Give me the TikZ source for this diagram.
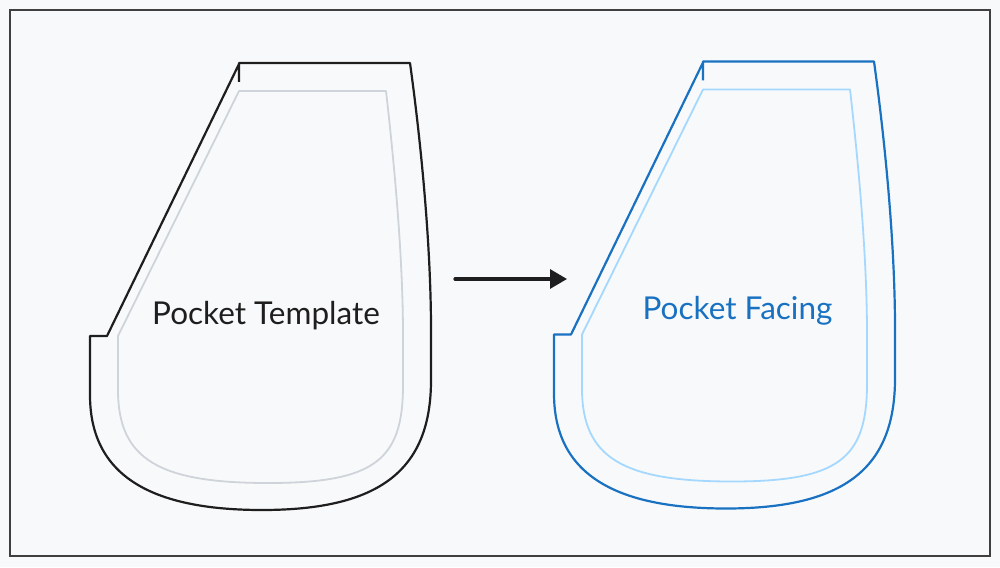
\documentclass[tikz,border=0pt]{standalone}
\usepackage{fontspec}
\setmainfont{Lato}
\usetikzlibrary{arrows.meta}
\definecolor{bgc}{HTML}{F8F9FA}
\definecolor{framec}{HTML}{404040}
\definecolor{inkc}{HTML}{1E1E1E}
\definecolor{grayc}{HTML}{CED4DA}
\definecolor{bluec}{HTML}{1971C2}
\definecolor{lbluec}{HTML}{A5D8FF}
\tikzset{
  outerline/.style={line width=2.2pt, line join=round},
  innerline/.style={line width=1.8pt, line join=round},
  label/.style={font=\fontsize{31.5}{36}\selectfont, anchor=base, inner sep=0pt},
  conn/.style={line width=3.2pt, line cap=round, -{Triangle[length=17pt,width=19pt]}},
  outerpocket/.pic={
    \draw[pic actions] (239,82) -- (239,63) -- (410,63)
      .. controls (422,150) and (431,250) .. (431,330) -- (431,380)
      .. controls (431,470) and (380,510) .. (262,510)
      .. controls (150,510) and (90,475) .. (90,395) -- (90,336) -- (107,336) -- (239,64);
  },
  innerpocket/.pic={
    \draw[pic actions] (239,91) -- (386,91)
      .. controls (395,170) and (403,260) .. (403,336) -- (403,385)
      .. controls (403,460) and (375,483) .. (268,483)
      .. controls (160,483) and (118,460) .. (118,390) -- (118,336) -- cycle;
  }
}
\begin{document}
\begin{tikzpicture}[x=1pt,y=-1pt]
\useasboundingbox (0,0) rectangle (1000,567);
\fill[bgc] (0,0) rectangle (1000,567);
\draw[framec, line width=1.3pt] (10,10) rectangle (990,556);
% left pocket
\pic[grayc, innerline] {innerpocket};
\pic[inkc, outerline] {outerpocket};
% right pocket
\begin{scope}[shift={(464,-1.5)}]
\pic[lbluec, innerline] {innerpocket};
\pic[bluec, outerline] {outerpocket};
\end{scope}
\node[label, text=inkc] (tmpl) at (266,324) {Pocket Template};
\node[label, text=bluec] (facing) at (737.5,319.5) {Pocket Facing};
\coordinate (arrstart) at (455,279);
\coordinate (arrend) at (567,279);
\draw[conn, inkc] (arrstart) -- (arrend);
\end{tikzpicture}
\end{document}
